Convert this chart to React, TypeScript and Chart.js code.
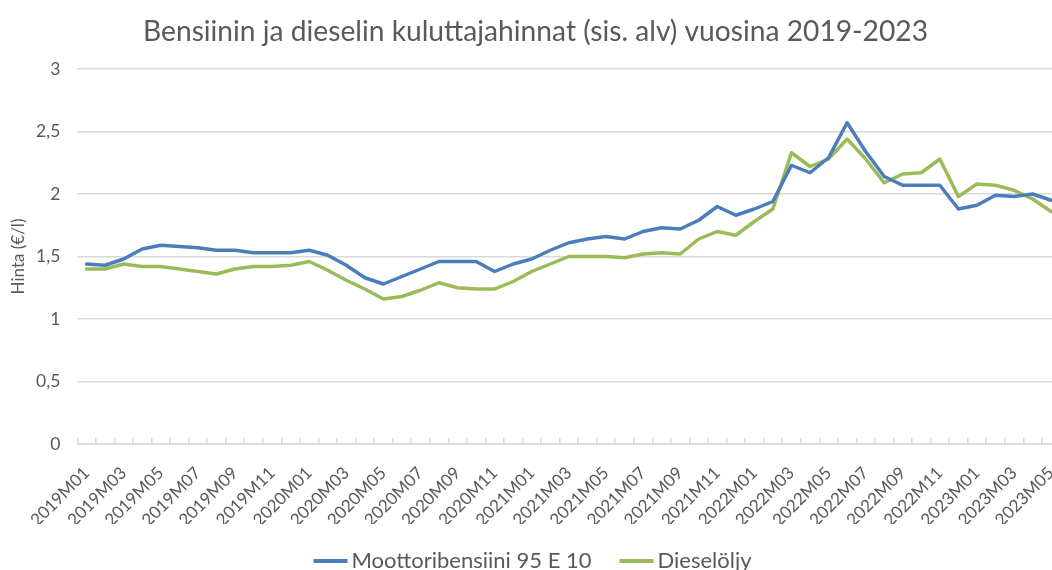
import React, { useEffect, useRef } from "react";
import { Chart, registerables } from "chart.js";

Chart.register(...registerables);

const TITLE = "Bensiinin ja dieselin kuluttajahinnat (sis. alv) vuosina 2019-2023";
const Y_TITLE = "Hinta (€/l)";
const SERIES_NAMES = ["Moottoribensiini 95 E 10", "Dieselöljy"];
const SERIES_COLORS = ["#4a7ebb", "#9bbb59"];

const months = [
  "2019M01", "2019M02", "2019M03", "2019M04", "2019M05", "2019M06", "2019M07", "2019M08", "2019M09", "2019M10", "2019M11", "2019M12",
  "2020M01", "2020M02", "2020M03", "2020M04", "2020M05", "2020M06", "2020M07", "2020M08", "2020M09", "2020M10", "2020M11", "2020M12",
  "2021M01", "2021M02", "2021M03", "2021M04", "2021M05", "2021M06", "2021M07", "2021M08", "2021M09", "2021M10", "2021M11", "2021M12",
  "2022M01", "2022M02", "2022M03", "2022M04", "2022M05", "2022M06", "2022M07", "2022M08", "2022M09", "2022M10", "2022M11", "2022M12",
  "2023M01", "2023M02", "2023M03", "2023M04", "2023M05",
];

const petrol = [
  1.44, 1.43, 1.48, 1.56, 1.59, 1.58, 1.57, 1.55, 1.55, 1.53, 1.53, 1.53,
  1.55, 1.51, 1.43, 1.33, 1.28, 1.34, 1.40, 1.46, 1.46, 1.46, 1.38, 1.44,
  1.48, 1.55, 1.61, 1.64, 1.66, 1.64, 1.70, 1.73, 1.72, 1.79, 1.90, 1.83,
  1.88, 1.94, 2.23, 2.17, 2.29, 2.57, 2.34, 2.14, 2.07, 2.07, 2.07, 1.88,
  1.91, 1.99, 1.98, 2.00, 1.95,
];

const diesel = [
  1.40, 1.40, 1.44, 1.42, 1.42, 1.40, 1.38, 1.36, 1.40, 1.42, 1.42, 1.43,
  1.46, 1.39, 1.31, 1.24, 1.16, 1.18, 1.23, 1.29, 1.25, 1.24, 1.24, 1.30,
  1.38, 1.44, 1.50, 1.50, 1.50, 1.49, 1.52, 1.53, 1.52, 1.64, 1.70, 1.67,
  1.78, 1.88, 2.33, 2.22, 2.28, 2.44, 2.28, 2.09, 2.16, 2.17, 2.28, 1.98,
  2.08, 2.07, 2.03, 1.96, 1.86,
];

const Y_MIN = 0;
const Y_MAX = 3;
const Y_STEP = 0.5;

const FONT = "Lato";
const TEXT_COLOR = "#595959";
const GRID_COLOR = "#d9d9d9";
const CANVAS_W = 1068;
const CANVAS_H = 570;
const LEGEND_SIZE = 22;
const LEGEND_Y = 561;
const LEGEND_CX = 532.5;

const legendPlugin = {
  id: "excelLegend",
  afterDraw(chart: any) {
    const ctx = chart.ctx as CanvasRenderingContext2D;
    ctx.save();
    ctx.font = `${LEGEND_SIZE}px ${FONT}`;
    ctx.textBaseline = "middle";
    ctx.textAlign = "left";
    const seg = 34;
    const gap = 4;
    const itemGap = 28;
    const items = chart.data.datasets.map((ds: any) => ({
      text: ds.label as string,
      color: ds.borderColor as string,
      w: ctx.measureText(ds.label).width,
    }));
    const total =
      items.reduce((s: number, it: any) => s + seg + gap + it.w, 0) + itemGap * (items.length - 1);
    let x = LEGEND_CX - total / 2;
    for (const it of items) {
      ctx.strokeStyle = it.color;
      ctx.lineWidth = 4;
      ctx.lineCap = "butt";
      ctx.beginPath();
      ctx.moveTo(x, LEGEND_Y);
      ctx.lineTo(x + seg, LEGEND_Y);
      ctx.stroke();
      x += seg + gap;
      ctx.fillStyle = TEXT_COLOR;
      ctx.fillText(it.text, x, LEGEND_Y);
      x += it.w + itemGap;
    }
    ctx.restore();
  },
};

export default function App() {
  const canvasRef = useRef<HTMLCanvasElement | null>(null);

  useEffect(() => {
    const canvas = canvasRef.current;
    if (!canvas) return;
    const chart = new Chart(canvas, {
      type: "line",
      data: {
        labels: months,
        datasets: [
          {
            label: SERIES_NAMES[0],
            data: petrol,
            borderColor: SERIES_COLORS[0],
            backgroundColor: SERIES_COLORS[0],
            borderWidth: 3.5,
            pointRadius: 0,
            tension: 0,
            borderJoinStyle: "round",
            borderCapStyle: "round",
          },
          {
            label: SERIES_NAMES[1],
            data: diesel,
            borderColor: SERIES_COLORS[1],
            backgroundColor: SERIES_COLORS[1],
            borderWidth: 3.5,
            pointRadius: 0,
            tension: 0,
            borderJoinStyle: "round",
            borderCapStyle: "round",
          },
        ],
      },
      options: {
        responsive: false,
        animation: false,
        events: [],
        layout: { padding: { left: 10.6, right: 7.6, top: 0, bottom: 46 } },
        plugins: {
          legend: { display: false },
          tooltip: { enabled: false },
          title: {
            display: true,
            text: TITLE,
            color: TEXT_COLOR,
            font: { family: FONT, size: 28.2, weight: "normal" },
            padding: { top: 14.7, bottom: 20.46 },
          },
        },
        scales: {
          x: {
            type: "category",
            offset: true,
            afterFit: (scale: any) => {
              scale.height = 80;
              scale.paddingLeft = 0;
              scale.paddingRight = 0;
            },
            grid: {
              offset: true,
              drawOnChartArea: false,
              drawTicks: true,
              tickLength: -6,
              color: GRID_COLOR,
              lineWidth: 1.5,
            },
            border: { display: true, color: GRID_COLOR, width: 1.5 },
            ticks: {
              autoSkip: false,
              maxRotation: 45,
              minRotation: 45,
              padding: 25,
              color: TEXT_COLOR,
              font: { family: FONT, size: 17 },
              callback: (_v: any, i: number) => (i % 2 === 0 ? months[i] : ""),
            },
          },
          y: {
            min: Y_MIN,
            max: Y_MAX,
            afterFit: (scale: any) => {
              scale.width = 66.7;
            },
            grid: { color: GRID_COLOR, lineWidth: 1.5, drawTicks: false },
            border: { display: false },
            ticks: {
              stepSize: Y_STEP,
              padding: 17,
              color: TEXT_COLOR,
              font: { family: FONT, size: 17.5 },
              callback: (v: any) => String(v).replace(".", ","),
            },
            title: {
              display: true,
              text: Y_TITLE,
              color: TEXT_COLOR,
              font: { family: FONT, size: 17 },
              padding: { top: -2.5, bottom: 0 },
            },
          },
        },
      },
      plugins: [legendPlugin],
    } as any);
    return () => chart.destroy();
  }, []);

  return (
    <div
      style={{
        position: "fixed",
        left: 0,
        top: 0,
        width: 1052,
        height: 570,
        overflow: "hidden",
        background: "#ffffff",
      }}
    >
      <canvas
        ref={canvasRef}
        width={CANVAS_W}
        height={CANVAS_H}
        style={{ display: "block", width: CANVAS_W, height: CANVAS_H }}
      />
    </div>
  );
}
